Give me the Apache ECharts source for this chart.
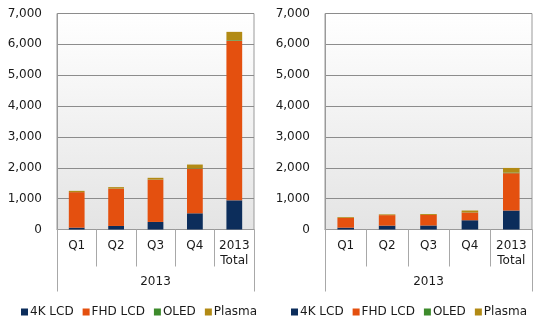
<!DOCTYPE html>
<html><head><meta charset="utf-8">
<script src="https://cdn.jsdelivr.net/npm/echarts@6/dist/echarts.min.js"></script>
<style>html,body{margin:0;padding:0;background:#fff}#c{width:546px;height:326px}</style>
</head><body><div id="c"></div>
<script>
var categories = ['Q1', 'Q2', 'Q3', 'Q4', '2013\nTotal'];
var groupLabel = ['2013'];
var seriesNames = ['4K LCD', 'FHD LCD', 'OLED', 'Plasma'];
var yTicks = [0, 1000, 2000, 3000, 4000, 5000, 6000, 7000];

// Left chart
var left4K     = [60, 115, 245, 525, 945];
var leftFHD    = [1150, 1210, 1370, 1445, 5175];
var leftOLED   = [2, 3, 5, 10, 20];
var leftPlasma = [40, 45, 55, 125, 265];

// Right chart
var right4K     = [60, 125, 130, 300, 615];
var rightFHD    = [315, 340, 340, 250, 1210];
var rightOLED   = [0, 0, 0, 5, 20];
var rightPlasma = [25, 25, 30, 60, 150];

var colors = ['#0c2d5b', '#e4500f', '#3d8b2c', '#b28a14'];
var font = 'DejaVu Sans';

var bg = {type:'linear', x:0, y:0, x2:0, y2:1, colorStops:[{offset:0,color:'#ffffff'},{offset:1,color:'#e4e4e4'}]};

function grid(left, width){
  return {left:left, width:width, top:13.5, height:216, show:true, backgroundColor:bg, borderColor:'#9a9a9a', borderWidth:1};
}
function yAxis(gi){
  return {type:'value', gridIndex:gi, min:0, max:7000, interval:1000,
    axisLine:{show:true, lineStyle:{color:'#9a9a9a'}}, axisTick:{show:false},
    splitLine:{lineStyle:{color:'#8c8c8c', width:1}},
    axisLabel:{margin:15, color:'#1a1a1a', fontFamily:font, fontSize:12,
      formatter:function(v){return v.toLocaleString('en-US');}}};
}
function catAxis(gi){
  return {type:'category', gridIndex:gi, data:categories, position:'bottom',
    axisLine:{show:true, lineStyle:{color:'#9a9a9a'}},
    axisTick:{show:true, length:37, lineStyle:{color:'#a8a8a8'}},
    axisLabel:{margin:9, color:'#1a1a1a', fontFamily:font, fontSize:12, lineHeight:15, interval:0}};
}
function groupAxis(gi){
  return {type:'category', gridIndex:gi, data:groupLabel, position:'bottom',
    axisLine:{show:false},
    axisTick:{show:true, length:62, lineStyle:{color:'#a8a8a8'}},
    axisLabel:{margin:46, color:'#1a1a1a', fontFamily:font, fontSize:12}};
}
function bars(xi, yi, arrays){
  return arrays.map(function(d, i){
    return {name:seriesNames[i], type:'bar', stack:'s'+xi, xAxisIndex:xi, yAxisIndex:yi,
      data:d, barWidth:'40%', itemStyle:{color:colors[i]}, emphasis:{disabled:true}};
  });
}
function legend(left){
  return {data:seriesNames, left:left, top:301, itemWidth:7, itemHeight:7, itemGap:9,
    icon:'rect', textStyle:{fontFamily:font, fontSize:12, color:'#1a1a1a', padding:[0,0,0,-3]}};
}

var chart = echarts.init(document.getElementById('c'), null, {renderer:'canvas'});
chart.setOption({
  animation:false,
  color:colors,
  grid:[grid(57, 197), grid(325, 207)],
  xAxis:[catAxis(0), groupAxis(0), catAxis(1), groupAxis(1)],
  yAxis:[yAxis(0), yAxis(1)],
  legend:[legend(16), legend(286)],
  series:[].concat(
    bars(0, 0, [left4K, leftFHD, leftOLED, leftPlasma]),
    bars(2, 1, [right4K, rightFHD, rightOLED, rightPlasma])
  )
});
</script></body></html>
